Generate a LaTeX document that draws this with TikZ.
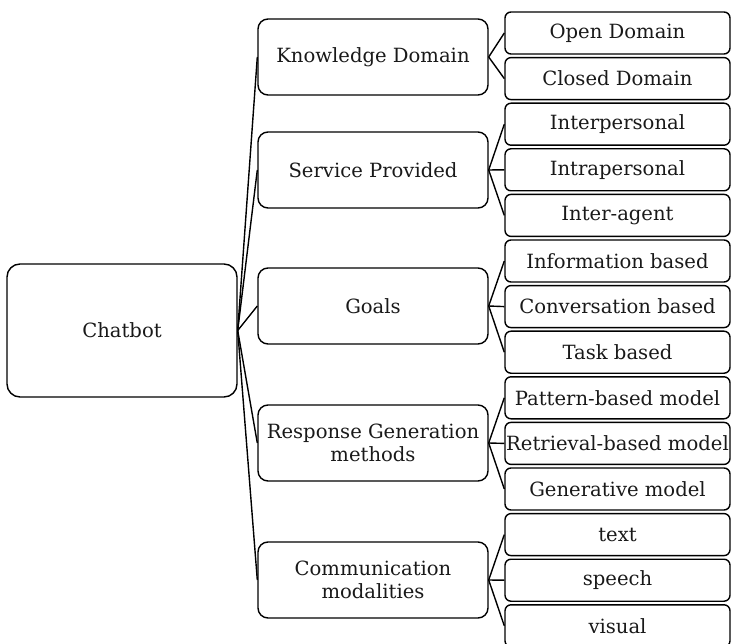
\documentclass[tikz,border=0pt]{standalone}
\usepackage{fontspec}
\setmainfont{DejaVu Serif}
\usepackage{tikz}

\begin{document}
\begin{tikzpicture}[x=1pt,y=-1pt,line width=1.4pt,
	every node/.style={draw,align=center,inner sep=0pt,text=black!90,font=\fontsize{19.6}{23}\selectfont},
	root/.style={minimum width=230pt,minimum height=133pt,rounded corners=13pt},
	mid/.style={minimum width=230pt,minimum height=76pt,rounded corners=10pt},
	leaf/.style={minimum width=225pt,minimum height=42pt,rounded corners=6pt}]
	
	\useasboundingbox (0,0) rectangle (731,644);
	\clip (0,0) rectangle (731,644);
	
	% root and first level
	\node[root] (chatbot) at (122,330.5) {Chatbot};
	\node[mid] (kd) at (373,57) {Knowledge Domain};
	\node[mid] (sp) at (373,170) {Service Provided};
	\node[mid] (goals) at (373,306) {Goals};
	\node[mid] (rg) at (373,443) {Response Generation\\methods};
	\node[mid] (cm) at (373,580) {Communication\\modalities};
	
	% leaves
	\node[leaf] (open) at (617.5,33) {Open Domain};
	\node[leaf] (closed) at (617.5,78.6) {Closed Domain};
	\node[leaf] (inter) at (617.5,124.2) {Interpersonal};
	\node[leaf] (intra) at (617.5,169.8) {Intrapersonal};
	\node[leaf] (agent) at (617.5,215.4) {Inter-agent};
	\node[leaf] (info) at (617.5,261) {Information based};
	\node[leaf] (conv) at (617.5,306.6) {Conversation based};
	\node[leaf] (task) at (617.5,352.2) {Task based};
	\node[leaf] (pattern) at (617.5,397.8) {Pattern-based model};
	\node[leaf] (retrieval) at (617.5,443.4) {Retrieval-based model};
	\node[leaf] (generative) at (617.5,489) {Generative model};
	\node[leaf] (text) at (617.5,534.6) {text};
	\node[leaf] (speech) at (617.5,580.2) {speech};
	\node[leaf] (visual) at (617.5,625.8) {visual};
	
	% connectors
	\draw (chatbot.east) -- (kd.west);
	\draw (chatbot.east) -- (sp.west);
	\draw (chatbot.east) -- (goals.west);
	\draw (chatbot.east) -- (rg.west);
	\draw (chatbot.east) -- (cm.west);
	
	\draw (kd.east) -- (open.west);
	\draw (kd.east) -- (closed.west);
	\draw (sp.east) -- (inter.west);
	\draw (sp.east) -- (intra.west);
	\draw (sp.east) -- (agent.west);
	\draw (goals.east) -- (info.west);
	\draw (goals.east) -- (conv.west);
	\draw (goals.east) -- (task.west);
	\draw (rg.east) -- (pattern.west);
	\draw (rg.east) -- (retrieval.west);
	\draw (rg.east) -- (generative.west);
	\draw (cm.east) -- (text.west);
	\draw (cm.east) -- (speech.west);
	\draw (cm.east) -- (visual.west);
	
\end{tikzpicture}
\end{document}
